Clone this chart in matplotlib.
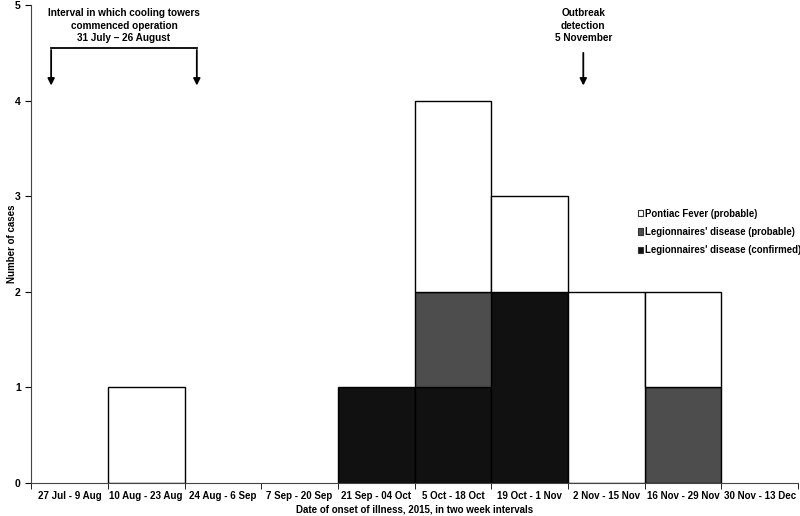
import matplotlib
matplotlib.use('Agg')
from matplotlib import rcParams
rcParams['font.family'] = 'sans-serif'
rcParams['font.sans-serif'] = ['Liberation Sans', 'DejaVu Sans']
rcParams['font.weight'] = 'bold'
import matplotlib.pyplot as plt
from matplotlib.patches import Patch
import numpy as np

intervals = ['27 Jul - 9 Aug', '10 Aug - 23 Aug', '24 Aug - 6 Sep', '7 Sep - 20 Sep',
             '21 Sep - 04 Oct', '5 Oct - 18 Oct', '19 Oct - 1 Nov', '2 Nov - 15 Nov',
             '16 Nov - 29 Nov', '30 Nov - 13 Dec']
legionnaires_confirmed = [0, 0, 0, 0, 1, 1, 2, 0, 0, 0]
legionnaires_probable = [0, 0, 0, 0, 0, 1, 0, 0, 1, 0]
pontiac_probable = [0, 1, 0, 0, 0, 2, 1, 2, 1, 0]

COL_CONF = '#111111'
COL_PROB = '#4d4d4d'
COL_PONT = '#ffffff'

fig = plt.figure(figsize=(8, 5.16), dpi=100)
ax = fig.add_axes([0.039, 0.064, 0.9585, 0.926])

x = np.arange(len(intervals))
conf = np.array(legionnaires_confirmed)
prob = np.array(legionnaires_probable)
pont = np.array(pontiac_probable)

kw = dict(width=1.0, edgecolor='black', linewidth=1.0)
for vals, bottoms, col in [(conf, np.zeros(len(x)), COL_CONF),
                           (prob, conf, COL_PROB),
                           (pont, conf + prob, COL_PONT)]:
    m = vals > 0
    ax.bar(x[m], vals[m], bottom=bottoms[m], color=col, **kw)

ax.set_xlim(-0.5, len(intervals) - 0.5)
ax.set_ylim(0, 5)
ax.set_yticks(range(6))
ax.set_xticks(x)
ax.set_xticklabels(intervals, fontsize=7)
ax.set_xticks(np.arange(-0.5, len(intervals)), minor=True)
ax.tick_params(axis='x', which='major', length=0, pad=6)
ax.tick_params(axis='x', which='minor', length=4, direction='out')
ax.tick_params(axis='y', labelsize=7.5, length=4, direction='out')
for s in ['top', 'right']:
    ax.spines[s].set_visible(False)
ax.spines['left'].set_color('#444444')
ax.spines['bottom'].set_color('#444444')

ax.set_xlabel('Date of onset of illness, 2015, in two week intervals', fontsize=7, fontweight='bold', labelpad=2)
ax.set_ylabel('Number of cases', fontsize=7, fontweight='bold')
ax.yaxis.set_label_coords(-0.018, 0.5)

# cooling towers bracket
bx0, bx1, by, tip = -0.24, 1.66, 4.55, 4.13
ax.plot([bx0, bx1], [by, by], color='black', lw=1.3)
ax.annotate('', xy=(bx0, tip), xytext=(bx0, by + 0.01),
            arrowprops=dict(arrowstyle='-|>', color='black', lw=1.3, mutation_scale=10))
ax.annotate('', xy=(bx1, tip), xytext=(bx1, by + 0.01),
            arrowprops=dict(arrowstyle='-|>', color='black', lw=1.3, mutation_scale=10))
ax.text((bx0 + bx1) / 2, 4.785, 'Interval in which cooling towers\ncommenced operation\n31 July \u2013 26 August',
        ha='center', va='center', fontsize=7.2, fontweight='bold', linespacing=1.3)

# outbreak detection
ox = 6.70
ax.annotate('', xy=(ox, tip), xytext=(ox, 4.53),
            arrowprops=dict(arrowstyle='-|>', color='black', lw=1.3, mutation_scale=10))
ax.text(ox, 4.785, 'Outbreak\ndetection\n5 November', ha='center', va='center',
        fontsize=7.2, fontweight='bold', linespacing=1.3)

handles = [Patch(facecolor=COL_PONT, edgecolor='#333333', linewidth=0.8, label='Pontiac Fever (probable)'),
           Patch(facecolor=COL_PROB, edgecolor='#333333', linewidth=0.8, label="Legionnaires' disease (probable)"),
           Patch(facecolor=COL_CONF, edgecolor='#333333', linewidth=0.8, label="Legionnaires' disease (confirmed)")]
ax.legend(handles=handles, loc='upper left', bbox_to_anchor=(0.786, 0.582), frameon=False,
          prop=dict(size=6.9, weight='bold'), handlelength=0.6, handleheight=0.6,
          handletextpad=0.2, labelspacing=0.85, borderaxespad=0)

plt.savefig('out.png', dpi=100)
